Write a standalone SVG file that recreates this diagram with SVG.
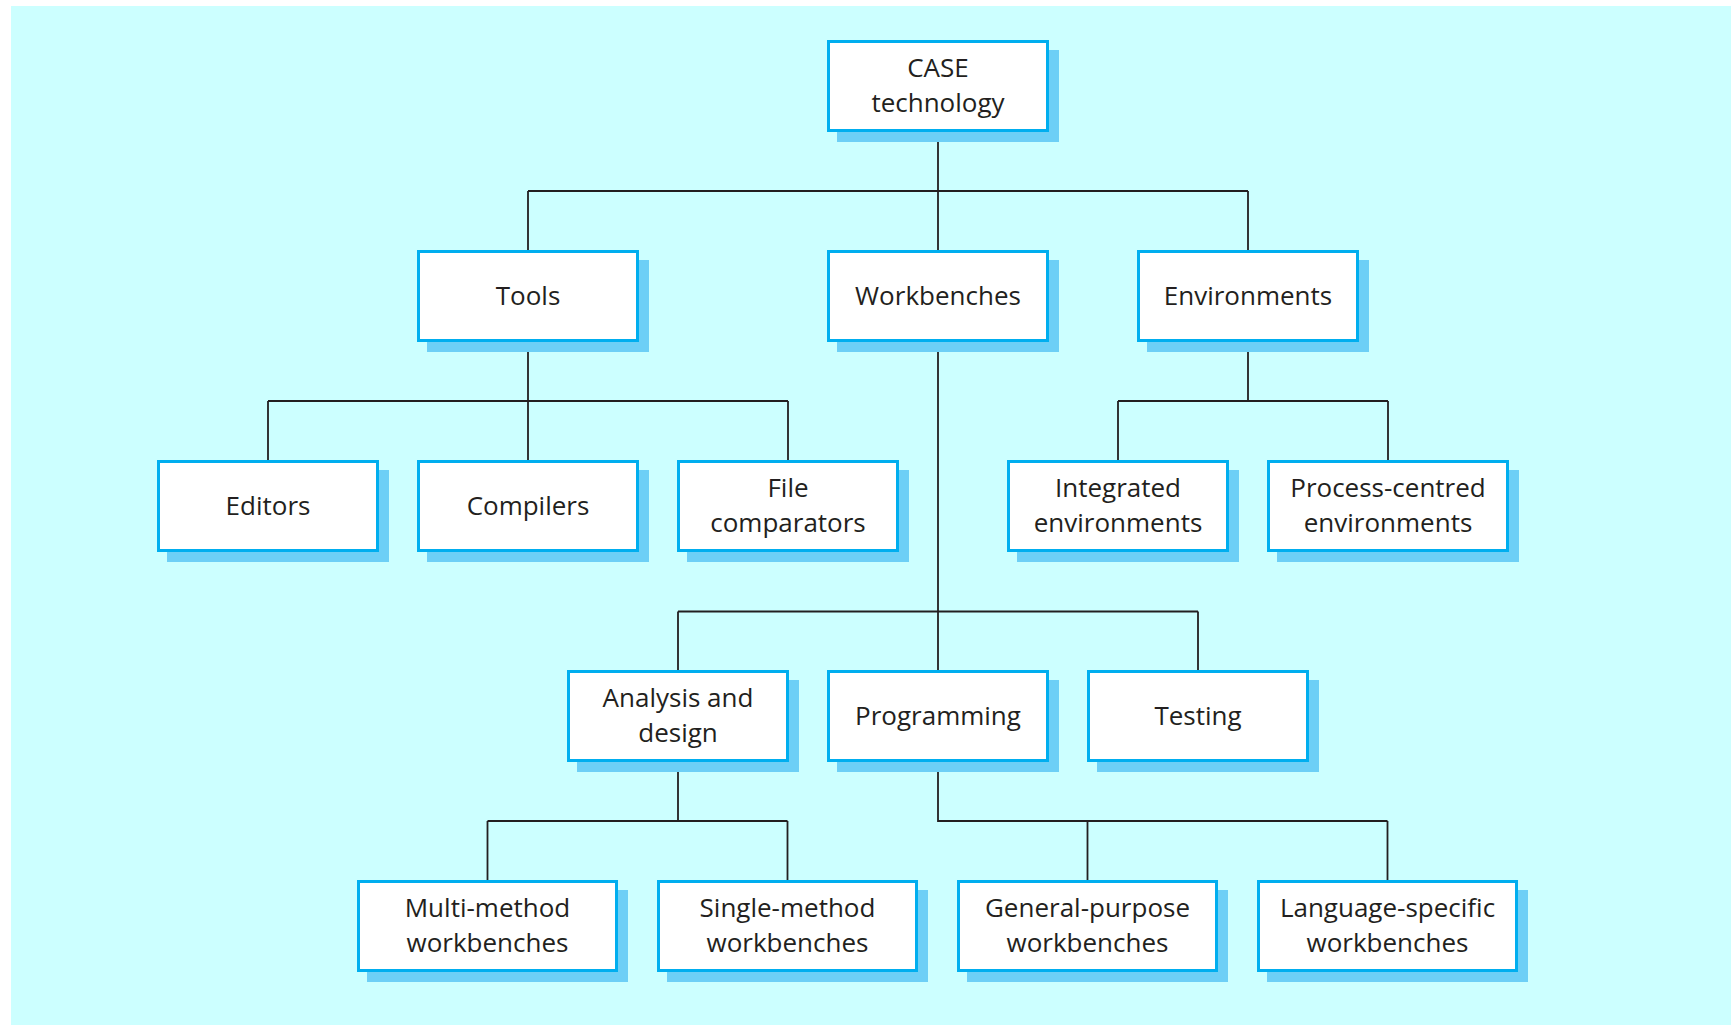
<svg xmlns="http://www.w3.org/2000/svg" width="1731" height="1025" viewBox="0 0 1731 1025">
<style>
.sh{fill:#6DCFF6}
.bx{fill:#FFFFFF;stroke:#00AEEF;stroke-width:3}
.t{font-family:"Open Sans","Noto Sans","Liberation Sans",sans-serif;font-size:26px;fill:#231F20;text-anchor:middle}
.c{fill:none;stroke:#231F20;stroke-width:1.8}
</style>
<rect x="11" y="6" width="1720" height="1019" fill="#CCFFFF"/>
<g id="connectors">
<path class="c" d="M938 132V191M528 191H1248M528 191V250M938 191V250M1248 191V250"/>
<path class="c" d="M528 342V401M268 401H788M268 401V460M528 401V460M788 401V460"/>
<path class="c" d="M1248 342V401M1118 401H1388M1118 401V460M1388 401V460"/>
<path class="c" d="M938 342V611.5M678 611.5H1198M678 611.5V670M938 611.5V670M1198 611.5V670"/>
<path class="c" d="M678 762V821M487.5 821H787.5M487.5 821V880M787.5 821V880"/>
<path class="c" d="M938 762V821H1387.5M1087.5 821V880M1387.5 821V880"/>
</g>
<g id="case"><rect class="sh" x="837" y="50" width="222" height="92"/><rect class="bx" x="828.5" y="41.5" width="219" height="89"/><text class="t" x="938" y="76.5">CASE</text><text class="t" x="938" y="111.5">technology</text></g>
<g id="tools"><rect class="sh" x="427" y="260" width="222" height="92"/><rect class="bx" x="418.5" y="251.5" width="219" height="89"/><text class="t" x="528" y="305">Tools</text></g>
<g id="workbenches"><rect class="sh" x="837" y="260" width="222" height="92"/><rect class="bx" x="828.5" y="251.5" width="219" height="89"/><text class="t" x="938" y="305">Workbenches</text></g>
<g id="environments"><rect class="sh" x="1147" y="260" width="222" height="92"/><rect class="bx" x="1138.5" y="251.5" width="219" height="89"/><text class="t" x="1248" y="305">Environments</text></g>
<g id="editors"><rect class="sh" x="167" y="470" width="222" height="92"/><rect class="bx" x="158.5" y="461.5" width="219" height="89"/><text class="t" x="268" y="515">Editors</text></g>
<g id="compilers"><rect class="sh" x="427" y="470" width="222" height="92"/><rect class="bx" x="418.5" y="461.5" width="219" height="89"/><text class="t" x="528" y="515">Compilers</text></g>
<g id="file-comparators"><rect class="sh" x="687" y="470" width="222" height="92"/><rect class="bx" x="678.5" y="461.5" width="219" height="89"/><text class="t" x="788" y="496.5">File</text><text class="t" x="788" y="531.5">comparators</text></g>
<g id="integrated"><rect class="sh" x="1017" y="470" width="222" height="92"/><rect class="bx" x="1008.5" y="461.5" width="219" height="89"/><text class="t" x="1118" y="496.5">Integrated</text><text class="t" x="1118" y="531.5">environments</text></g>
<g id="process-centred"><rect class="sh" x="1277" y="470" width="242" height="92"/><rect class="bx" x="1268.5" y="461.5" width="239" height="89"/><text class="t" x="1388" y="496.5">Process-centred</text><text class="t" x="1388" y="531.5">environments</text></g>
<g id="analysis"><rect class="sh" x="577" y="680" width="222" height="92"/><rect class="bx" x="568.5" y="671.5" width="219" height="89"/><text class="t" x="678" y="706.5">Analysis and</text><text class="t" x="678" y="741.5">design</text></g>
<g id="programming"><rect class="sh" x="837" y="680" width="222" height="92"/><rect class="bx" x="828.5" y="671.5" width="219" height="89"/><text class="t" x="938" y="725">Programming</text></g>
<g id="testing"><rect class="sh" x="1097" y="680" width="222" height="92"/><rect class="bx" x="1088.5" y="671.5" width="219" height="89"/><text class="t" x="1198" y="725">Testing</text></g>
<g id="multi-method"><rect class="sh" x="367" y="890" width="261" height="92"/><rect class="bx" x="358.5" y="881.5" width="258" height="89"/><text class="t" x="487.5" y="916.5">Multi-method</text><text class="t" x="487.5" y="951.5">workbenches</text></g>
<g id="single-method"><rect class="sh" x="667" y="890" width="261" height="92"/><rect class="bx" x="658.5" y="881.5" width="258" height="89"/><text class="t" x="787.5" y="916.5">Single-method</text><text class="t" x="787.5" y="951.5">workbenches</text></g>
<g id="general-purpose"><rect class="sh" x="967" y="890" width="261" height="92"/><rect class="bx" x="958.5" y="881.5" width="258" height="89"/><text class="t" x="1087.5" y="916.5">General-purpose</text><text class="t" x="1087.5" y="951.5">workbenches</text></g>
<g id="language-specific"><rect class="sh" x="1267" y="890" width="261" height="92"/><rect class="bx" x="1258.5" y="881.5" width="258" height="89"/><text class="t" x="1387.5" y="916.5">Language-specific</text><text class="t" x="1387.5" y="951.5">workbenches</text></g>
</svg>
